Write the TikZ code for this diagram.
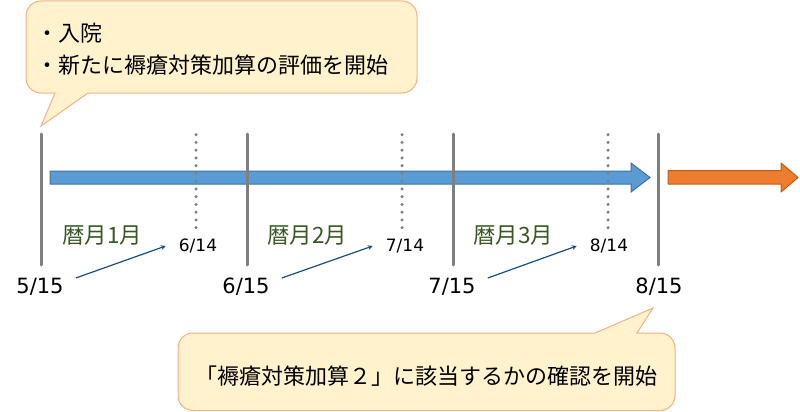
\documentclass[tikz,border=0pt]{standalone}
\usepackage{fontspec}
\setmainfont{Noto Sans CJK JP}
\newfontfamily\datefont{DejaVu Sans}

\definecolor{notefill}{HTML}{FFF2CC}
\definecolor{noteline}{HTML}{F4B183}
\definecolor{barblue}{HTML}{5B9BD5}
\definecolor{barblueline}{HTML}{41719C}
\definecolor{barorange}{HTML}{ED7D31}
\definecolor{barorangeline}{HTML}{C55A11}
\definecolor{tickgray}{HTML}{7F7F7F}
\definecolor{monthgreen}{HTML}{385723}
\definecolor{linkblue}{HTML}{1F4E79}

\begin{document}
\begin{tikzpicture}[x=1pt,y=-1pt,>=stealth,
    note/.style={fill=notefill,draw=noteline,line width=1pt},
    tick/.style={draw=tickgray,line width=3pt,line cap=round},
    halftick/.style={draw=tickgray,line width=3.4pt,line cap=round,dash pattern=on 0pt off 7.75pt},
    month/.style={text=monthgreen,font=\fontsize{22.5}{22.5}\selectfont,inner sep=0pt},
    bigdate/.style={font=\datefont\fontsize{21}{21}\selectfont,inner sep=0pt},
    smalldate/.style={font=\datefont\fontsize{17}{17}\selectfont,inner sep=0pt},
    link/.style={->,draw=linkblue,line width=1.2pt}]
    \useasboundingbox (0,0) rectangle (800,412);

    % 绘制上方提示框
    \path[note] (26,47) [rounded corners=15pt] |- (417,1) -- (417,93) [sharp corners] -- (88,93) -- (41,126) -- (55,93) [rounded corners=15pt] -- (26,93) -- cycle;
    \node[anchor=west,align=left,font=\fontsize{22}{32}\selectfont,inner sep=0pt] (admit) at (36,49) {・入院\\・新たに褥瘡対策加算の評価を開始};

    % 绘制时间轴箭头
    \path[fill=barblue,draw=barblueline,line width=1pt] (50,171) -- (631,171) -- (631,163) -- (650,177.5) -- (631,192) -- (631,184) -- (50,184) -- cycle;
    \path[fill=barorange,draw=barorangeline,line width=1pt,line join=round] (668,170.5) -- (781,170.5) -- (781,163) -- (798,177.5) -- (781,192) -- (781,184) -- (668,184) -- cycle;

    % 绘制分隔线
    \draw[tick] (41,134) -- (41,265);
    \draw[tick] (247,134) -- (247,265);
    \draw[tick] (453,134) -- (453,265);
    \draw[tick] (658,134) -- (658,265);
    \draw[halftick] (196,134.7) -- (196,228);
    \draw[halftick] (402,134.7) -- (402,228);
    \draw[halftick] (608,134.7) -- (608,228);

    % 添加月份标签
    \node[month] (m1) at (102,235.5) {暦月1月};
    \node[month] (m2) at (307,235.5) {暦月2月};
    \node[month] (m3) at (513,235.5) {暦月3月};

    % 添加日期
    \node[bigdate] (d515) at (40,287) {5/15};
    \node[bigdate] (d615) at (246,287) {6/15};
    \node[bigdate] (d715) at (452,287) {7/15};
    \node[bigdate] (d815) at (659,287) {8/15};
    \node[smalldate] (d614) at (198,246) {6/14};
    \node[smalldate] (d714) at (405,246) {7/14};
    \node[smalldate] (d814) at (609,246) {8/14};

    % 绘制连接箭头
    \draw[link] ([xshift=12pt,yshift=9pt]d515.east) -- ([xshift=-13pt]d614.west);
    \draw[link] ([xshift=12pt,yshift=9pt]d615.east) -- ([xshift=-13pt]d714.west);
    \draw[link] ([xshift=12pt,yshift=9pt]d715.east) -- ([xshift=-13pt]d814.west);

    % 绘制下方提示框
    \path[note] (178,372) [rounded corners=15pt] -- (178,333) [sharp corners] -- (595,333) -- (653,308) -- (637,333) [rounded corners=15pt] -- (675,333) -- (675,410.5) -- (178,410.5) -- cycle;
    \node[font=\fontsize{22}{22}\selectfont,inner sep=0pt] (check) at (426,376) {「褥瘡対策加算２」に該当するかの確認を開始};
\end{tikzpicture}
\end{document}
